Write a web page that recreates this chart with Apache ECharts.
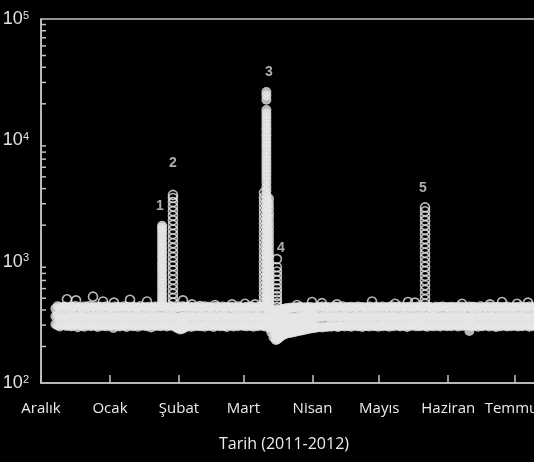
<!DOCTYPE html>
<html><head><meta charset="utf-8">
<script src="https://cdn.jsdelivr.net/npm/echarts@6/dist/echarts.min.js"></script>
<style>html,body{margin:0;padding:0;background:#000;}#c{width:534px;height:462px;}</style>
</head><body><div id="c"></div>
<script>
// ---- axis labels ----
const monthNames = ['Ocak','Şubat','Mart','Nisan','Mayıs','Haziran','Temmuz','Ağustos','Eylül','Ekim','Kasım','Aralık'];
const yMinorTicks = [200,300,400,500,600,700,800,900,2000,3000,4000,5000,6000,7000,8000,9000,20000,30000,40000,50000,60000,70000,80000,90000];

// ---- daily background readings (one row per day) ----
const bandDec = [[305,355,410],[298,360,430],[292,345,420],[302,350,415],[299,357,428],[295,349,422],[301,354,412],[293,346,426],[297,358,419],[304,351,431],[288,347,416],[300,353,424],[296,356,413],[291,344,427],[303,359,420],[298,350,432],[294,347,415],[300,355,423],[297,352,418],[289,349,428],[302,357,414],[295,346,425],[299,353,420],[293,350,429],[301,356,417]];
const bandJan = [[298,351,421],[284,347,416],[301,355,428],[295,349,419],[292,356,424],[300,345,413],[296,352,430],[289,348,418],[303,357,425],[297,350,415],[294,354,427],[299,346,420],[291,358,417],[302,351,429],[296,349,414],[300,355,423],[293,347,418],[298,353,426],[287,350,415],[301,356,422],[295,348,428],[299,354,419],[294,351,424],[297,349,430],[300,355,417],[292,347,423],[298,352,416],[296,357,427],[301,350,420],[288,346,414],[282,344,421]];
const bandFeb = [[276,312,350,418],[279,315,352,430],[285,320,355,425],[292,352,420],[296,349,428],[290,355,417],[298,351,424],[294,346,419],[300,354,426],[293,350,415],[297,357,422],[291,348,429],[299,353,418],[295,346,425],[302,356,420],[290,351,416],[296,349,427],[300,354,421],[293,347,414],[298,352,428],[295,358,419],[289,350,424],[301,345,417],[297,353,426],[292,349,420],[299,356,415],[294,351,429],[300,347,422],[296,354,418]];
const bandMar = [[297,352,420],[293,348,426],[300,355,417],[295,350,428],[291,346,422],[299,353,415],[294,357,425],[301,349,419],[296,354,427],[292,348,421],[298,352,418],[286,340,410],[262,305,350,400],[238,275,320,365,400],[226,262,305,350,392],[232,268,310,352,396],[240,278,318,360,402],[246,285,330,372,408],[252,295,345,410],[256,300,350,415],[258,305,355,412],[260,300,340,420],[263,302,345,416],[265,305,348,422],[268,308,350,418],[270,310,352,425],[272,312,355,414],[275,315,357,421],[277,318,360,417],[280,320,362,423],[282,322,365,419]];
const bandApr = [[284,320,360,420],[286,348,415],[288,352,426],[290,346,419],[287,351,428],[292,355,417],[289,349,424],[294,353,421],[291,347,416],[296,356,427],[293,350,420],[290,354,425],[297,348,418],[295,352,429],[292,357,414],[298,350,423],[294,346,419],[291,353,426],[299,349,417],[296,355,422],[293,351,428],[297,347,415],[290,354,424],[298,350,420],[295,356,417],[292,348,427],[300,353,421],[294,349,416],[297,355,425],[291,351,419]];
const bandMay = [[296,352,421],[293,348,427],[299,355,416],[295,350,424],[291,346,419],[298,353,430],[294,357,418],[300,349,425],[297,354,420],[292,347,428],[299,351,415],[295,356,423],[290,349,419],[298,353,426],[296,347,417],[301,355,424],[293,350,420],[297,352,428],[294,346,416],[300,354,422],[295,351,427],[291,349,418],[298,356,425],[296,348,420],[293,353,414],[299,350,426],[295,355,419],[292,347,423],[300,352,428],[297,349,417],[294,356,424]];
const bandJun = [[298,351,420],[294,347,426],[300,355,418],[296,350,424],[292,353,419],[299,348,428],[295,356,415],[301,352,423],[297,346,420],[268,300,349,427],[293,354,417],[299,350,425],[295,347,421],[291,355,416],[298,352,429],[294,349,418],[300,356,424],[296,348,420],[292,353,427],[299,350,415],[295,357,423],[290,347,419],[297,352,426],[293,355,417],[300,349,424],[296,351,420],[292,356,428],[298,348,416],[294,353,422],[299,350,419]];
const bandJul = [[295,354,424],[292,348,418],[298,352,427],[294,357,416],[300,349,423],[296,353,420],[291,347,428],[299,355,417],[295,350,425],[297,352,419],[293,348,426],[300,356,421]];
const bandMonthKeys = ['2011-12','2012-01','2012-02','2012-03','2012-04','2012-05','2012-06','2012-07'];
const bandFirstDays = [7,1,1,1,1,1,1,1];
const bandRows = [bandDec,bandJan,bandFeb,bandMar,bandApr,bandMay,bandJun,bandJul];

// ---- event columns ----
const spikeDates = ['2012-01-24 10:00','2012-01-29 07:00','2012-03-10 05:00','2012-03-11 07:00','2012-03-12 11:00','2012-03-16 00:00','2012-05-21 14:00'];
const spike1 = [450,480,515,550,590,630,675,720,770,825,880,940,1000,1070,1140,1220,1300,1390,1480,1580,1690,1800,1900,1980];
const spike2 = [460,500,545,595,650,710,775,845,920,1000,1090,1190,1300,1420,1550,1690,1840,2010,2190,2390,2610,2850,3100,3350,3550];
const spike3a = [3700,3400,3150,2900,2650,2450,2250,2080,1920,1770,1630,1500,1380,1270,1170,1080,1000,920,850,785,725,670,620,575,530,490,455];
const spike3b = [25000,23400,21600,17800,16600,15500,14500,13500,12600,11800,11000,10300,9600,9000,8400,7800,7300,6800,6350,5950,5550,5200,4850,4500,4150,3850,3550,3300,3080,2870,2680,2500,2330,2180,2030,1900,1770,1650,1540,1440,1340,1250,1170,1090,1020,950,885,825,770,720,670,625,585,545,510,475,445];
const spike3c = [3300,3000,2750,2500,2300,2100,1930,1780,1640,1510,1390,1280,1180,1090,1000,925,855,790,730,675,625,580,540,500,465,435];
const spike4 = [1050,900,830,765,705,650,600,560,520,485,455,425,400,375,350,330,310,290,272,256,242,230];
const spike5 = [450,490,535,585,640,700,765,835,910,995,1085,1185,1290,1410,1540,1680,1830,2000,2180,2380,2600,2800];
const spikeValues = [spike1,spike2,spike3a,spike3b,spike3c,spike4,spike5];
const spikeFilled = [true,false,false,true,true,false,false];

// ---- isolated readings ----
const outlierDates = ['2011-12-12 16:00','2011-12-16 18:00','2011-12-24 09:00','2011-12-28 21:00','2012-01-02 19:00','2012-01-10 00:00','2012-01-17 15:00','2012-02-02 19:00','2012-02-06 20:00','2012-02-10 11:00','2012-02-17 05:00','2012-02-24 20:00','2012-03-01 16:00','2012-03-06 04:00','2012-03-25 01:00','2012-03-31 19:00','2012-04-05 06:00','2012-04-12 00:00','2012-04-27 18:00','2012-05-08 02:00','2012-05-13 22:00','2012-05-17 01:00','2012-06-07 04:00','2012-06-11 16:00','2012-06-19 18:00','2012-06-25 04:00','2012-07-01 22:00','2012-07-06 20:00'];
const outlierValues = [490,480,515,470,460,485,470,480,445,430,440,445,450,445,440,465,455,445,470,450,465,460,450,420,445,465,450,460];

// ---- annotations ----
const noteLabels = ['1','2','3','4','5'];
const noteDates = ['2012-01-23 11:00','2012-01-29 07:00','2012-03-12 11:00','2012-03-17 20:00','2012-05-20 16:00'];
const noteValues = [2870,6500,36600,1295,4050];

// ---- build ----
const X_MIN = '2011-12-01', X_MAX = '2012-07-11 19:00';
const filledPts = [], ringPts = [];
bandRows.forEach((rows, m) => rows.forEach((vals, i) => {
  const d = bandMonthKeys[m] + '-' + String(bandFirstDays[m] + i).padStart(2, '0') + ' 12:00';
  vals.forEach(v => filledPts.push([d, v]));
}));
spikeValues.forEach((vals, k) => vals.forEach(v => (spikeFilled[k] ? filledPts : ringPts).push([spikeDates[k], v])));
outlierDates.forEach((d, i) => ringPts.push([d, outlierValues[i]]));
const notes = noteLabels.map((t, i) => ({ name: t, value: [noteDates[i], noteValues[i]] }));
const minorPts = yMinorTicks.map(v => [X_MIN, v]);

const axisColor = '#c4c4c4';
const dotColor = '#e6e6e6';
const chart = echarts.init(document.getElementById('c'), null, { renderer: 'canvas' });
chart.setOption({
  backgroundColor: '#000',
  animation: false,
  grid: { left: 41, top: 19, right: -5, bottom: 79, outerBoundsMode: 'none', containLabel: false,
          show: true, borderColor: axisColor, borderWidth: 1.5, backgroundColor: 'transparent' },
  xAxis: {
    type: 'time', min: X_MIN, max: X_MAX, splitNumber: 8,
    minInterval: 28 * 86400000, maxInterval: 31 * 86400000,
    name: 'Tarih (2011-2012)', nameLocation: 'middle', nameGap: 53,
    nameTextStyle: { color: '#ececec', fontFamily: 'Open Sans', fontSize: 16, padding: [0, 12, 0, 0] },
    axisLine: { lineStyle: { color: axisColor, width: 1.5 } },
    axisTick: { inside: true, length: 8, lineStyle: { color: axisColor, width: 1.5 } },
    axisLabel: {
      margin: 18, color: '#ececec', fontFamily: 'Open Sans', fontSize: 15, hideOverlap: false,
      formatter: v => monthNames[new Date(v).getMonth()]
    },
    splitLine: { show: false }
  },
  yAxis: {
    type: 'log', logBase: 10, min: 100, max: 100000,
    axisLine: { show: true, lineStyle: { color: axisColor, width: 1.5 } },
    axisTick: { inside: true, length: 9, lineStyle: { color: axisColor, width: 1.5 } },
    axisLabel: {
      margin: 12, color: '#e2e2e2',
      formatter: v => '{b|10}{s|' + Math.round(Math.log10(v)) + '}',
      rich: {
        b: { fontSize: 18, fontFamily: 'Liberation Sans', color: '#e2e2e2' },
        s: { fontSize: 11, fontFamily: 'Liberation Sans', color: '#e2e2e2', verticalAlign: 'top' }
      }
    },
    splitLine: { show: false }
  },
  series: [{
    type: 'custom', data: minorPts, silent: true,
    renderItem: (params, api) => {
      const p = api.coord([api.value(0), api.value(1)]);
      return { type: 'line', shape: { x1: p[0], y1: p[1], x2: p[0] + 5, y2: p[1] },
               style: { stroke: axisColor, lineWidth: 1.5 } };
    }
  }, {
    type: 'scatter', data: filledPts, symbol: 'circle', symbolSize: 10,
    itemStyle: { color: dotColor, borderWidth: 0 },
    emphasis: { disabled: true }
  }, {
    type: 'scatter', data: ringPts, symbol: 'circle', symbolSize: 9,
    itemStyle: { color: 'rgba(0,0,0,0)', borderColor: dotColor, borderWidth: 1.6 },
    emphasis: { disabled: true }
  }, {
    type: 'scatter', data: notes, symbolSize: 2,
    itemStyle: { color: 'rgba(0,0,0,0)' },
    label: { show: true, position: 'inside', formatter: '{b}', color: '#dadada', fontFamily: 'Liberation Sans', fontWeight: 'bold', fontSize: 14 },
    emphasis: { disabled: true }
  }]
});
</script></body></html>
